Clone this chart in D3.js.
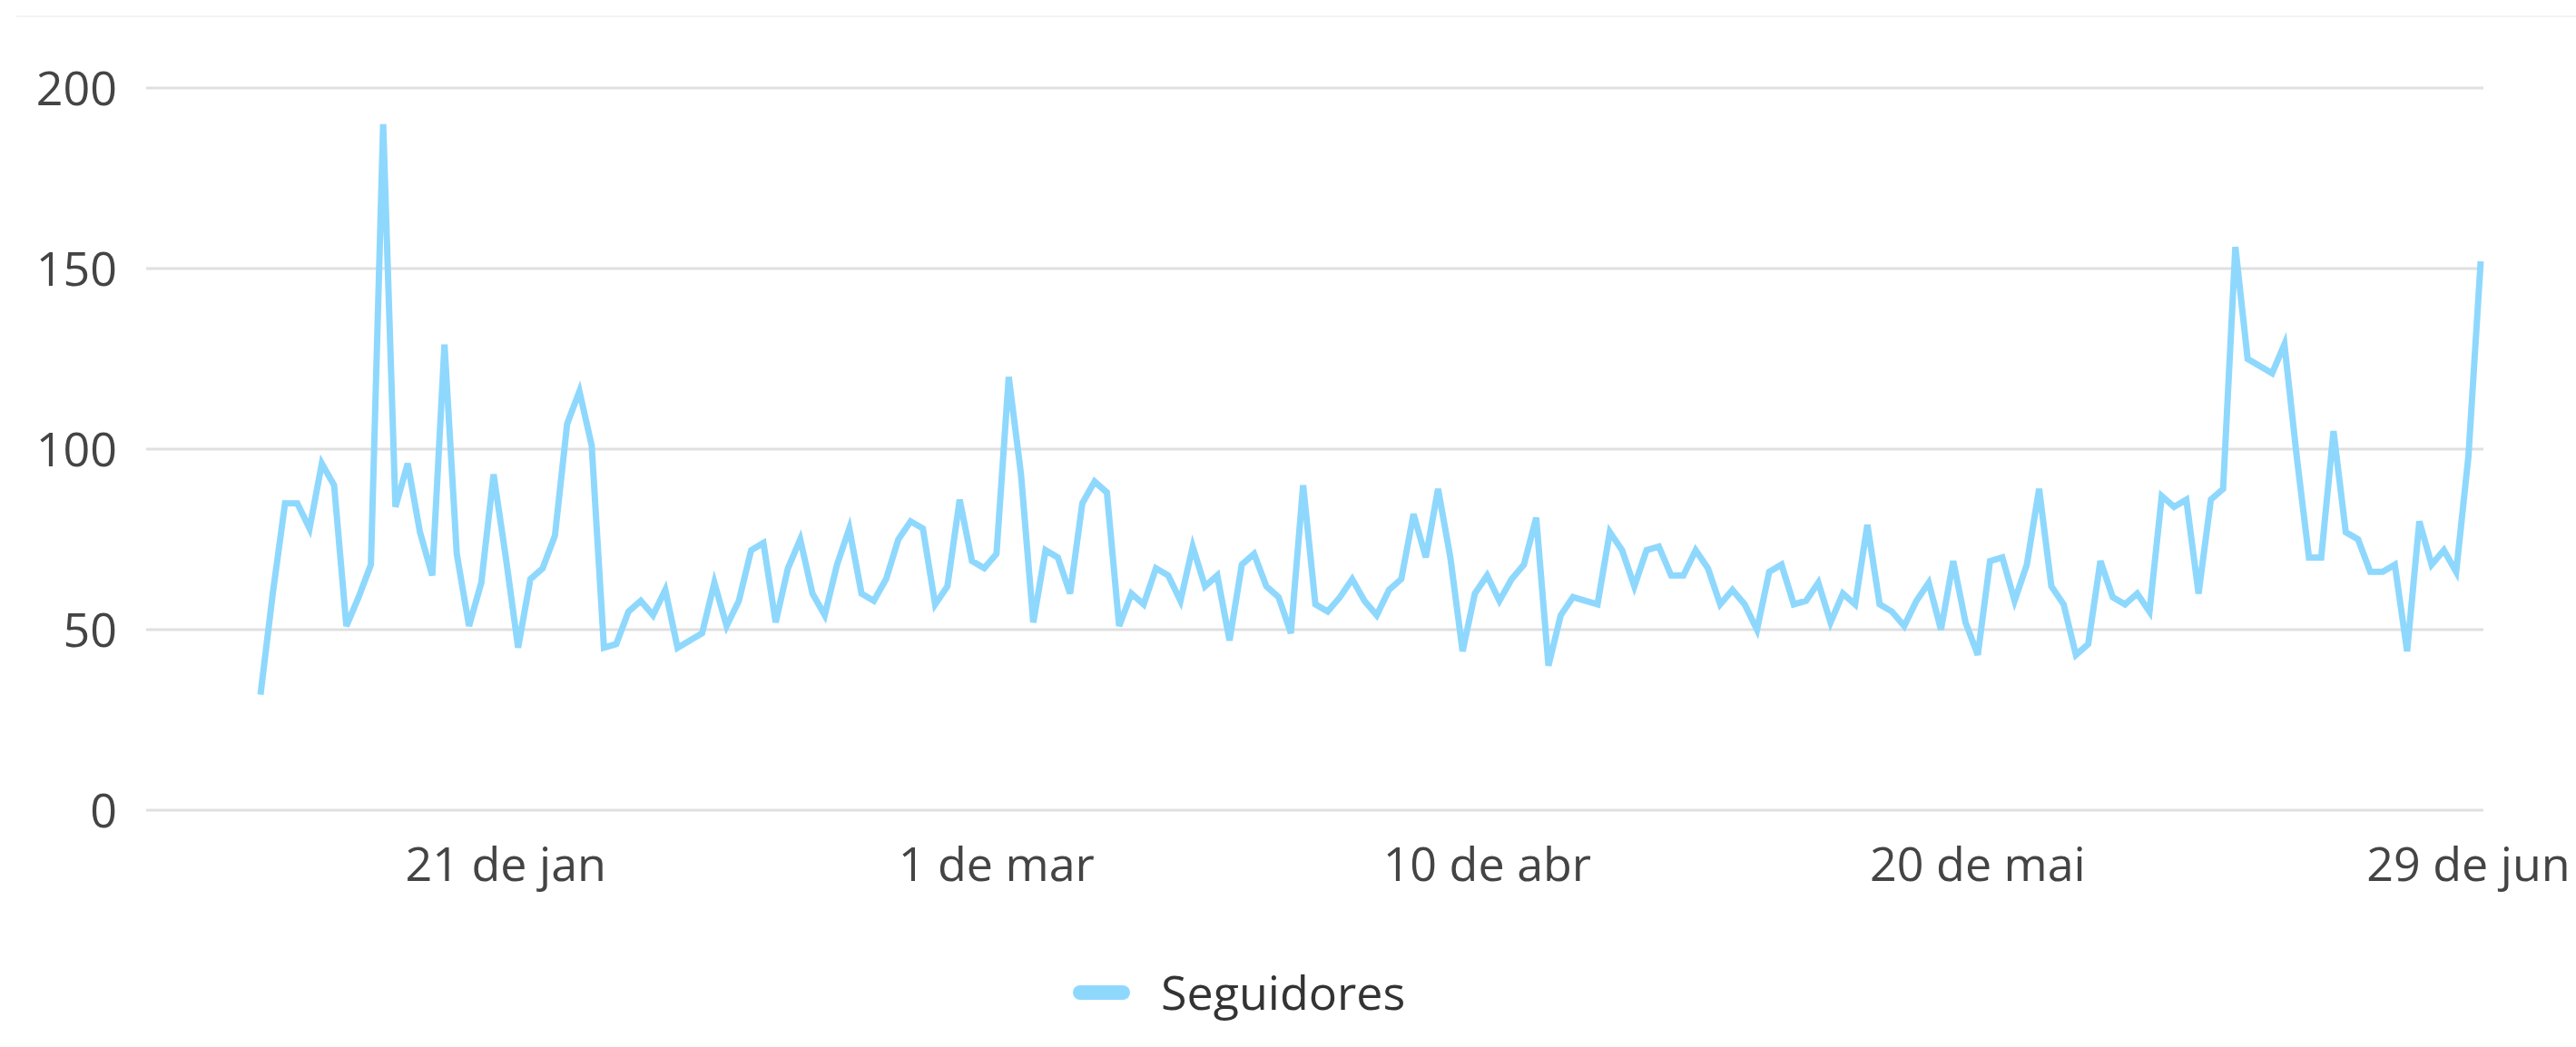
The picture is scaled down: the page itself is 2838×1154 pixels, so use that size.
<!DOCTYPE html>
<html>
<head>
<meta charset="utf-8">
<script src="https://cdn.jsdelivr.net/npm/d3@7"></script>
<style>
  html, body { margin: 0; padding: 0; background: #fff; }
  svg { display: block; font-family: "Open Sans", "Noto Sans", sans-serif; }
</style>
</head>
<body>
<script>
// daily followers, 1 jan .. 30 jun 2024
var startDate = new Date(2024, 0, 1);
var seguidores = [
  32, 60, 85, 85, 78, 96, 90, 51, 59, 68,
  190, 84, 96, 77, 65, 129, 71, 51, 63, 93,
  70, 45, 64, 67, 76, 107, 116, 101, 45, 46,
  55, 58, 54, 61, 45, 47, 49, 63, 51, 58,
  72, 74, 52, 67, 75, 60, 54, 68, 78, 60,
  58, 64, 75, 80, 78, 57, 62, 86, 69, 67,
  71, 120, 93, 52, 72, 70, 60, 85, 91, 88,
  51, 60, 57, 67, 65, 58, 73, 62, 65, 47,
  68, 71, 62, 59, 49, 90, 57, 55, 59, 64,
  58, 54, 61, 64, 82, 70, 89, 70, 44, 60,
  65, 58, 64, 68, 81, 40, 54, 59, 58, 57,
  77, 72, 62, 72, 73, 65, 65, 72, 67, 57,
  61, 57, 50, 66, 68, 57, 58, 63, 52, 60,
  57, 79, 57, 55, 51, 58, 63, 50, 69, 52,
  43, 69, 70, 58, 68, 89, 62, 57, 43, 46,
  69, 59, 57, 60, 55, 87, 84, 86, 60, 86,
  89, 156, 125, 123, 121, 129, 98, 70, 70, 105,
  77, 75, 66, 66, 68, 44, 80, 68, 72, 66,
  98, 152
];
var tickDates = [new Date(2024, 0, 21), new Date(2024, 2, 1), new Date(2024, 3, 10), new Date(2024, 4, 20), new Date(2024, 5, 29)];
var tickLabels = ["21 de jan", "1 de mar", "10 de abr", "20 de mai", "29 de jun"];
var yTicks = [0, 50, 100, 150, 200];
var seriesName = "Seguidores";

var width = 2838, height = 1154;
var lineColor = "#8fd8fd";
var plotLeft = 161, plotRight = 2736;

var dates = seguidores.map(function(v, i) { return d3.timeDay.offset(startDate, i); });

var x = d3.scaleTime()
    .domain([dates[0], dates[dates.length - 1]])
    .range([287, 2733]);

var y = d3.scaleLinear()
    .domain([0, 200])
    .range([893, 97]);

var svg = d3.select("body").append("svg")
    .attr("width", width)
    .attr("height", height);

// faint card edge at the top
svg.append("path")
    .attr("d", "M18,18H" + width)
    .attr("fill", "none")
    .attr("stroke", "#f3f3f3")
    .attr("stroke-width", 2);

// horizontal grid
svg.append("g")
  .selectAll("line")
  .data(yTicks)
  .enter().append("line")
    .attr("x1", plotLeft)
    .attr("x2", plotRight)
    .attr("y1", function(d) { return y(d); })
    .attr("y2", function(d) { return y(d); })
    .attr("stroke", "#e0e0e0")
    .attr("stroke-width", 3);

// y labels
svg.append("g")
  .selectAll("text")
  .data(yTicks)
  .enter().append("text")
    .attr("x", 129)
    .attr("y", function(d) { return y(d); })
    .attr("dy", "0.36em")
    .attr("text-anchor", "end")
    .attr("font-size", 52)
    .attr("fill", "#444")
    .text(function(d) { return d; });

// x labels
svg.append("g")
  .selectAll("text")
  .data(tickDates)
  .enter().append("text")
    .attr("x", function(d) { return x(d); })
    .attr("y", 971)
    .attr("text-anchor", "middle")
    .attr("font-size", 52)
    .attr("fill", "#444")
    .text(function(d, i) { return tickLabels[i]; });

// the line
var line = d3.line()
    .x(function(d, i) { return x(dates[i]); })
    .y(function(d) { return y(d); });

svg.append("path")
    .datum(seguidores)
    .attr("d", line)
    .attr("fill", "none")
    .attr("stroke", lineColor)
    .attr("stroke-width", 7)
    .attr("stroke-linejoin", "miter")
    .attr("stroke-miterlimit", 4);

// legend
var legend = svg.append("g").attr("transform", "translate(1182,1094)");
legend.append("rect")
    .attr("x", 0)
    .attr("y", -8)
    .attr("width", 63)
    .attr("height", 16)
    .attr("rx", 8)
    .attr("fill", lineColor);
legend.append("text")
    .attr("x", 97)
    .attr("y", 19)
    .attr("font-size", 52)
    .attr("fill", "#333")
    .text(seriesName);
</script>
</body>
</html>
